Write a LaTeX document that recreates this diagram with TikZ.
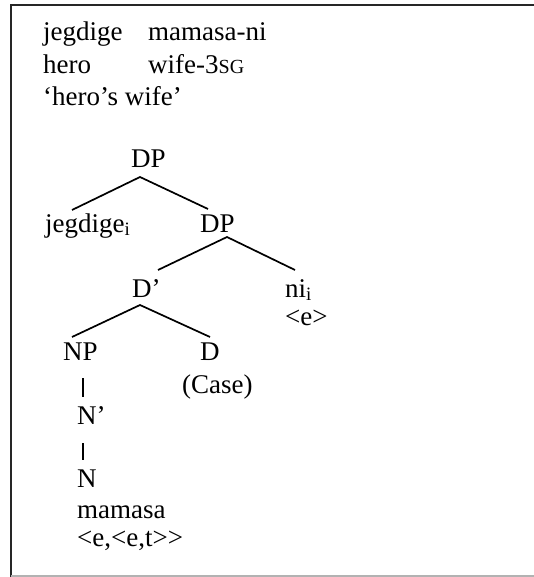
\documentclass[tikz,border=0pt]{standalone}
\usepackage{fontspec}
\setmainfont{Liberation Serif}
\usetikzlibrary{calc}
\begin{document}
\begin{tikzpicture}[x=1pt,y=-1pt,
  lbl/.style={anchor=base west,inner sep=0pt,text=black,font=\fontsize{27}{32}\selectfont},
  edge/.style={line width=1.7pt,black}]
\useasboundingbox (0,0) rectangle (534,577);
% frame
\draw[line width=2pt,black!85] (534,5) -- (11,5) -- (11,577);
\draw[line width=1.5pt,black!30] (11,576) -- (534,576);
% gloss
\node[lbl] (w1) at (43,41) {jegdige};
\node[lbl] (w2) at (148,41) {mamasa-ni};
\node[lbl] (g1) at (43,74) {hero};
\node[lbl] (g2) at (148,74) {wife-3{\fontsize{20}{24}\selectfont SG}};
\node[lbl] (tr) at (43,106) {‘hero’s wife’};
% tree
\node[lbl] (dp1) at (131,168) {DP};
\node[lbl] (jeg) at (45,232) {jegdige\textsubscript{i}};
\node[lbl] (dp2) at (200,232) {DP};
\node[lbl] (dbar) at (132,297) {D’};
\node[lbl] (ni) at (285,297) {ni\textsubscript{i}};
\node[lbl] (e) at (285,325) {\textless e\textgreater};
\node[lbl] (np) at (63,360) {NP};
\node[lbl] (d) at (200,360) {D};
\node[lbl] (case) at (182,393) {(Case)};
\node[lbl] (nbar) at (77,424) {N’};
\node[lbl] (n) at (77,487) {N};
\node[lbl] (mam) at (77,518) {mamasa};
\node[lbl] (type) at (77,546) {\textless e,\textless e,t\textgreater\kern0pt\textgreater};
% connectors
\coordinate (a1) at ($(dp1.base west)+(9,9)$);
\coordinate (a2) at ($(dp2.base west)+(27,5)$);
\coordinate (a3) at ($(dbar.base west)+(8,8)$);
\draw[edge] ($(jeg.base west)+(27,-22)$) -- (a1) -- ($(dp2.base west)+(8,-23)$);
\draw[edge] ($(dbar.base west)+(26,-27)$) -- (a2) -- ($(ni.base west)+(10,-27)$);
\draw[edge] ($(np.base west)+(9,-23)$) -- (a3) -- ($(d.base west)+(10,-23)$);
\draw[line width=1.1pt,black] ($(np.base west)+(20,18)$) -- ($(nbar.base west)+(6,-27)$);
\draw[line width=1.1pt,black] ($(nbar.base west)+(6,19)$) -- ($(n.base west)+(6,-27)$);
\end{tikzpicture}
\end{document}
